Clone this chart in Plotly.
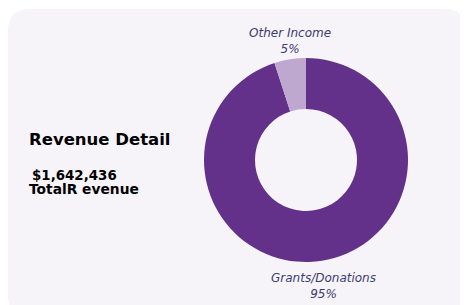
import math
import plotly.graph_objects as go

W, H = 468, 305
OFF = 8  # page body offset

labels = ["Grants/Donations", "Other Income"]
values = [1560314, 82122]
colors = ["#64318a", "#bea8cf"]

title_text = "Revenue Detail"
total_text = "$1,642,436"
total_label = "TotalR evenue"

def px(x):
    return (x - OFF) / W

def py(y):
    return 1 - (y - OFF) / H

# rounded card path
x0, y0, x1, y1, r = 8, 9, 466, 318, 22
path = (
    f"M {px(x0 + r)},{py(y0)} L {px(x1 - r)},{py(y0)} "
    f"Q {px(x1)},{py(y0)} {px(x1)},{py(y0 + r)} "
    f"L {px(x1)},{py(y1 - r)} Q {px(x1)},{py(y1)} {px(x1 - r)},{py(y1)} "
    f"L {px(x0 + r)},{py(y1)} Q {px(x0)},{py(y1)} {px(x0)},{py(y1 - r)} "
    f"L {px(x0)},{py(y0 + r)} Q {px(x0)},{py(y0)} {px(x0 + r)},{py(y0)} Z"
)

# pie geometry (pixels)
cx, cy, R = 306, 160, 102

fig = go.Figure(
    go.Pie(
        labels=labels,
        values=values,
        hole=0.5,
        sort=False,
        direction="clockwise",
        rotation=0,
        marker=dict(colors=colors, line=dict(width=0)),
        textinfo="none",
        domain=dict(x=[px(cx - R), px(cx + R)], y=[py(cy + R), py(cy - R)]),
        showlegend=False,
    )
)

fig.add_shape(type="path", path=path, xref="paper", yref="paper",
              fillcolor="#f6f4f9", line=dict(width=0), layer="below")

# outside labels placed at slice mid-angles
total = sum(values)
cum = 0
for lab, val in zip(labels, values):
    mid = (cum + val / 2) / total * 2 * math.pi  # clockwise from top
    cum += val
    top_half = math.cos(mid) > 0
    d = R + (1 if top_half else 8)
    lx = cx + d * math.sin(mid)
    ly = cy - d * math.cos(mid)
    pct = round(val / total * 100)
    fig.add_annotation(
        text=f"<i>{lab}</i><br><i>{pct}%</i>",
        x=px(lx), y=py(ly), xref="paper", yref="paper",
        xanchor="center", yanchor="bottom" if top_half else "top",
        showarrow=False,
        font=dict(family="DejaVu Sans", size=12, color="#3d3c70"),
    )

fig.add_annotation(text=f"<b>{title_text}</b>", x=px(27), y=py(140), xref="paper", yref="paper",
                   xanchor="left", yanchor="middle", showarrow=False,
                   font=dict(family="DejaVu Sans", size=16.5, color="#000000"))
fig.add_annotation(text=f"<b>{total_text}</b>", x=px(30), y=py(175), xref="paper", yref="paper",
                   xanchor="left", yanchor="middle", showarrow=False,
                   font=dict(family="DejaVu Sans", size=13.4, color="#000000"))
fig.add_annotation(text=f"<b>{total_label}</b>", x=px(27), y=py(189), xref="paper", yref="paper",
                   xanchor="left", yanchor="middle", showarrow=False,
                   font=dict(family="DejaVu Sans", size=13.8, color="#000000"))

fig.update_layout(
    width=W, height=H,
    margin=dict(l=0, r=0, t=0, b=0),
    paper_bgcolor="#ffffff",
    plot_bgcolor="#ffffff",
)

fig.write_html("out.html")
